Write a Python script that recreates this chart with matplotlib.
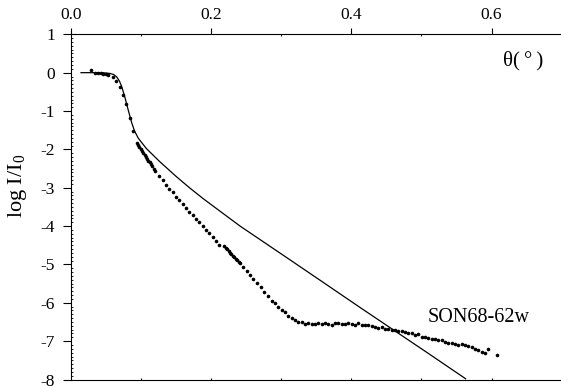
import matplotlib

matplotlib.use('Agg')  # no display
import matplotlib.pyplot as plt
from matplotlib.ticker import MultipleLocator

# Times-like serif for all text
plt.rcParams['font.family'] = ['Liberation Serif', 'DejaVu Serif']
plt.rcParams['mathtext.default'] = 'regular'
plt.rcParams['axes.unicode_minus'] = False

# measured points (theta in degrees, log I/I0)
theta_data = [
    0.0290, 0.0347, 0.0390, 0.0428, 0.0465, 0.0500, 0.0536, 0.0599, 0.0640, 0.0700,
    0.0746, 0.0788, 0.0841, 0.0893,
    0.0941, 0.0960, 0.0978, 0.0997, 0.1015, 0.1034, 0.1053, 0.1071, 0.1090, 0.1108,
    0.1127, 0.1146, 0.1164, 0.1183, 0.1202,
    0.1263, 0.1311, 0.1359, 0.1406, 0.1454, 0.1501, 0.1549, 0.1597, 0.1644, 0.1691,
    0.1739, 0.1786, 0.1833, 0.1882, 0.1929, 0.1976, 0.2024, 0.2071, 0.2118,
    0.2190, 0.2210, 0.2230, 0.2251, 0.2271, 0.2291, 0.2312, 0.2332, 0.2352, 0.2372,
    0.2393, 0.2413,
    0.2461, 0.2509, 0.2556, 0.2603, 0.2655, 0.2708, 0.2760, 0.2813,
    0.2865, 0.2913, 0.2960, 0.3008, 0.3055, 0.3103, 0.3150, 0.3198, 0.3245, 0.3293,
    0.3340, 0.3388, 0.3435, 0.3483, 0.3530, 0.3578, 0.3625, 0.3673, 0.3720, 0.3768,
    0.3815, 0.3863, 0.3910, 0.3958, 0.4005, 0.4053, 0.4101, 0.4148, 0.4196, 0.4243,
    0.4291, 0.4338, 0.4386, 0.4433, 0.4481, 0.4528, 0.4576, 0.4623, 0.4671, 0.4718,
    0.4766, 0.4813, 0.4861, 0.4908, 0.4956, 0.5003, 0.5051, 0.5098, 0.5146, 0.5193,
    0.5241, 0.5289, 0.5336, 0.5384, 0.5431, 0.5479, 0.5526, 0.5574, 0.5621, 0.5669,
    0.5716, 0.5764, 0.5811, 0.5859, 0.5906, 0.5954,
    0.6073,
]
logI_data = [
    0.07, -0.01, -0.02, -0.02, -0.03, -0.04, -0.06, -0.12, -0.22, -0.37,
    -0.59, -0.82, -1.17, -1.53,
    -1.83, -1.89, -1.94, -1.99, -2.04, -2.09, -2.14, -2.19, -2.24, -2.29,
    -2.34, -2.39, -2.44, -2.50, -2.56,
    -2.70, -2.81, -2.92, -3.03, -3.12, -3.23, -3.32, -3.42, -3.52, -3.62,
    -3.71, -3.81, -3.90, -4.01, -4.10, -4.19, -4.29, -4.38, -4.48,
    -4.53, -4.57, -4.61, -4.65, -4.69, -4.73, -4.77, -4.81, -4.85, -4.89,
    -4.93, -4.97,
    -5.07, -5.17, -5.28, -5.38, -5.49, -5.60, -5.72, -5.83,
    -5.94, -6.01, -6.10, -6.18, -6.25, -6.34, -6.40, -6.44, -6.49, -6.51,
    -6.54, -6.53, -6.54, -6.55, -6.53, -6.54, -6.53, -6.55, -6.58, -6.53,
    -6.52, -6.54, -6.55, -6.53, -6.55, -6.58, -6.53, -6.57, -6.59, -6.58,
    -6.61, -6.64, -6.66, -6.64, -6.68, -6.69, -6.71, -6.70, -6.73, -6.74,
    -6.77, -6.78, -6.79, -6.83, -6.82, -6.88, -6.90, -6.91, -6.95, -6.95,
    -6.98, -6.97, -7.01, -7.05, -7.05, -7.08, -7.10, -7.07, -7.10, -7.13,
    -7.16, -7.20, -7.23, -7.27, -7.30, -7.21,
    -7.37,
]

# simulated curve
theta_fit = [0.0147, 0.0450, 0.0560, 0.0615, 0.0656, 0.0695, 0.0727, 0.0774, 0.0821,
             0.0869, 0.0910, 0.0964, 0.1080, 0.1270, 0.1500, 0.1700, 0.1900, 0.2150,
             0.2415, 0.3127, 0.3554, 0.4124, 0.5075, 0.5630]
logI_fit = [0.00, 0.00, -0.02, -0.05, -0.11, -0.22, -0.36, -0.65, -0.98,
            -1.30, -1.52, -1.71, -1.98, -2.32, -2.70, -3.01, -3.30, -3.64,
            -4.00, -4.88, -5.41, -6.12, -7.29, -7.98]

x_ticks = [0.0, 0.2, 0.4, 0.6]
y_ticks = [1, 0, -1, -2, -3, -4, -5, -6, -7, -8]

fig = plt.figure(figsize=(5.61, 3.86), dpi=100)
ax = fig.add_axes([0.126, 0.0168, 0.874, 0.8943])

ax.plot(theta_fit, logI_fit, color='black', lw=0.9)
ax.plot(theta_data, logI_data, 'o', color='black', ms=2.6, mew=0, clip_on=False)

ax.set_xlim(0, 0.699)
ax.set_ylim(-8, 1)

# top axis carries the labels
ax.xaxis.tick_top()
ax.set_xticks(x_ticks)
ax.set_xticklabels(['%.1f' % t for t in x_ticks])
ax.xaxis.set_minor_locator(MultipleLocator(0.1))
ax.tick_params(axis='x', which='major', direction='out', length=4.5, width=0.8,
               labelsize=12.5, pad=4)
ax.tick_params(axis='x', which='minor', direction='in', length=1.5, width=0.8)

ax.set_yticks(y_ticks)
ax.set_yticklabels([str(t) for t in y_ticks])
ax.yaxis.set_minor_locator(MultipleLocator(0.1))
ax.tick_params(axis='y', which='major', direction='out', length=5.5, width=0.8,
               labelsize=12.5, pad=6)
ax.tick_params(axis='y', which='minor', direction='in', length=1.5, width=0.6)

# bottom axis: small inward ticks, no labels
bot = ax.secondary_xaxis('bottom')
bot.set_xticks([0.1, 0.2, 0.3, 0.4, 0.5, 0.6])
bot.tick_params(direction='in', length=1.5, width=0.8, labelbottom=False)
bot.spines['bottom'].set_linewidth(0.8)

ax.spines['right'].set_visible(False)
ax.spines['bottom'].set_visible(False)
for s in ['top', 'left']:
    ax.spines[s].set_linewidth(0.8)

ax.set_ylabel('log I/I$_0$', fontsize=16)
ax.yaxis.set_label_coords(-0.085, 0.56)

ax.text(0.645, 0.18, 'θ(\u2009°\u2009)', ha='center', va='baseline', fontsize=15)
ax.text(0.5813, -6.49, 'SON68-62w', ha='center', va='baseline', fontsize=14.5)

fig.savefig('out.png', dpi=100)
